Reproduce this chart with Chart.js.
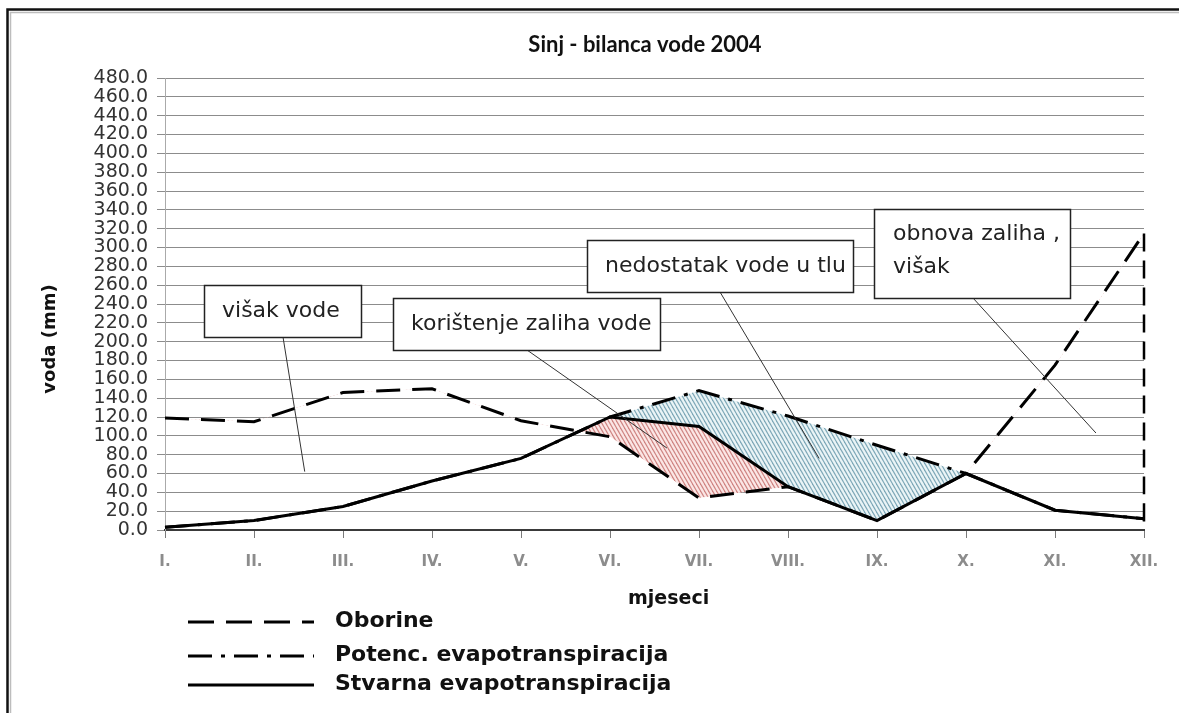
<!DOCTYPE html>
<html><head><meta charset="utf-8">
<script src="https://cdn.jsdelivr.net/npm/chart.js@4.4.1/dist/chart.umd.min.js"></script>
<style>html,body{margin:0;padding:0;background:#fff;}canvas{display:block}</style>
</head><body>
<canvas id="c" width="1179" height="713"></canvas>
<script>
// ---- data ----
const months = ['I.','II.','III.','IV.','V.','VI.','VII.','VIII.','IX.','X.','XI.','XII.'];
const oborine   = [119, 115, 146, 150, 116,  99,  34,  46,  10,  60, 175, 315];
const potencET  = [  3,  10,  25,  52,  76, 120, 148, 121,  90,  60,  21,  12];
const stvarnaET = [  3,  10,  25,  52,  76, 120, 110,  46,  10,  60,  21,  12];
const yMin = 0, yMax = 480, yStep = 20;
const chartTitle = 'Sinj - bilanca vode 2004';
const xTitle = 'mjeseci';
const yTitle = 'voda (mm)';
const seriesNames = ['Oborine', 'Potenc. evapotranspiracija', 'Stvarna evapotranspiracija'];
const calloutTexts = [['višak vode'], ['korištenje zaliha vode'], ['nedostatak vode u tlu'], ['obnova zaliha ,', 'višak']];
// leader-line targets in data coordinates (month index, value)
const calloutTargets = [[1.57, 62], [5.64, 87], [7.35, 76], [10.46, 103]];

// ---- styles ----
const SANS = '"DejaVu Sans", Verdana, sans-serif';
const dashOb = [24, 12];
const dashPet = [24, 9, 4, 9];
const calloutBoxes = [ // x0,y0,x1,y1, textX, text line centers, leader start
  {box:[204,285,361,337], tx:222, ty:[311], from:[283,337]},
  {box:[393,298,660,350], tx:411, ty:[324], from:[527,350]},
  {box:[587,240,853,292], tx:605, ty:[266], from:[720,292]},
  {box:[874,209,1070,298], tx:893, ty:[234,267], from:[973,298]}
];
const legendRows = [621, 655, 684];

function hatch(bg, fg){
  const c = document.createElement('canvas'); c.width = 4; c.height = 7;
  const g = c.getContext('2d');
  g.fillStyle = bg; g.fillRect(0,0,4,7);
  g.strokeStyle = fg; g.lineWidth = 1.2;
  for (const [ox,oy] of [[0,0],[-4,0],[4,0],[0,-7],[0,7]]) {
    g.beginPath(); g.moveTo(ox, oy); g.lineTo(ox+4, oy+7); g.stroke();
  }
  return g.createPattern(c, 'repeat');
}
const redHatch = hatch('#fbe6e5', '#cf8583');
const blueHatch = hatch('#eaf4f6', '#7ea8b8');

const decor = {
  id: 'decor',
  afterDatasetsDraw(chart){
    const {ctx, scales:{x, y}} = chart;
    const i = months.length - 1;
    ctx.save();
    ctx.strokeStyle = '#000'; ctx.lineWidth = 2.5; ctx.setLineDash([18, 9]);
    ctx.beginPath();
    ctx.moveTo(x.getPixelForValue(i), y.getPixelForValue(oborine[i]));
    ctx.lineTo(x.getPixelForValue(i), y.getPixelForValue(0));
    ctx.stroke();
    ctx.restore();
  },
  afterDraw(chart){
    const {ctx, scales:{x, y}} = chart;
    ctx.save();
    // chart title
    ctx.font = 'bold 22px Lato, "Open Sans", sans-serif'; ctx.fillStyle = '#111';
    ctx.textAlign = 'center'; ctx.textBaseline = 'alphabetic';
    ctx.fillText(chartTitle, 645, 52);
    // callouts
    calloutBoxes.forEach((cb, k) => {
      const [tx, tv] = calloutTargets[k];
      ctx.strokeStyle = '#333'; ctx.lineWidth = 1; ctx.setLineDash([]);
      ctx.beginPath(); ctx.moveTo(cb.from[0], cb.from[1]);
      ctx.lineTo(x.getPixelForValue(tx), y.getPixelForValue(tv)); ctx.stroke();
      const [x0,y0,x1,y1] = cb.box;
      ctx.fillStyle = '#fff'; ctx.fillRect(x0, y0, x1-x0, y1-y0);
      ctx.strokeStyle = '#222'; ctx.lineWidth = 1.5;
      ctx.strokeRect(x0+0.5, y0+0.5, x1-x0, y1-y0);
      ctx.fillStyle = '#222'; ctx.font = '22px ' + SANS;
      ctx.textBaseline = 'middle'; ctx.textAlign = 'left';
      calloutTexts[k].forEach((t, j) => ctx.fillText(t, cb.tx, cb.ty[j]));
    });
    // axis titles
    ctx.save();
    ctx.translate(50, 339); ctx.rotate(-Math.PI/2);
    ctx.font = 'bold 18px ' + SANS; ctx.fillStyle = '#111';
    ctx.textAlign = 'center'; ctx.textBaseline = 'middle';
    ctx.fillText(yTitle, 0, 0);
    ctx.restore();
    ctx.font = 'bold 19px ' + SANS; ctx.fillStyle = '#111';
    ctx.textAlign = 'left'; ctx.textBaseline = 'middle';
    ctx.fillText(xTitle, 628, 599);
    // legend
    const ds = chart.data.datasets;
    const order = [1, 2, 0];
    order.forEach((di, k) => {
      const d = ds[di];
      const ly = legendRows[k];
      ctx.strokeStyle = '#000'; ctx.lineWidth = 3; ctx.setLineDash(di === 1 ? [26, 12] : (d.borderDash || []));
      ctx.beginPath(); ctx.moveTo(188, ly + 1); ctx.lineTo(314, ly + 1); ctx.stroke();
      ctx.setLineDash([]);
      ctx.fillStyle = '#111'; ctx.font = 'bold 22px ' + SANS;
      ctx.textAlign = 'left'; ctx.textBaseline = 'middle';
      ctx.fillText(d.label, 335, ly);
    });
    // frame
    ctx.setLineDash([]);
    ctx.strokeStyle = '#bdbdbd'; ctx.lineWidth = 1.5;
    ctx.beginPath(); ctx.moveTo(10.5, 713); ctx.lineTo(10.5, 12.5); ctx.lineTo(1179, 12.5); ctx.stroke();
    ctx.strokeStyle = '#111'; ctx.lineWidth = 2.5;
    ctx.beginPath(); ctx.moveTo(7.5, 713); ctx.lineTo(7.5, 9.5); ctx.lineTo(1179, 9.5); ctx.stroke();
    ctx.restore();
  }
};

new Chart(document.getElementById('c'), {
  type: 'line',
  data: {
    labels: months,
    datasets: [
      {label: seriesNames[2], data: stvarnaET, borderColor: '#000', borderWidth: 3, pointRadius: 0, tension: 0,
       fill: {target: 1, above: redHatch, below: 'rgba(0,0,0,0)'}},
      {label: seriesNames[0], data: oborine, borderColor: '#000', borderWidth: 3, borderDash: dashOb, pointRadius: 0, tension: 0, fill: false},
      {label: seriesNames[1], data: potencET, borderColor: '#000', borderWidth: 3, borderDash: dashPet, pointRadius: 0, tension: 0,
       fill: {target: 0, above: blueHatch, below: 'rgba(0,0,0,0)'}}
    ]
  },
  options: {
    responsive: false, animation: false, devicePixelRatio: 1,
    layout: {padding: {left: 0, right: 35, top: 78, bottom: 0}},
    plugins: {
      legend: {display: false},
      tooltip: {enabled: false},
      filler: {drawTime: 'beforeDatasetsDraw'},
      title: {display: false}
    },
    scales: {
      x: {
        offset: false,
        grid: {drawOnChartArea: false, drawTicks: true, tickLength: 8, color: '#7a7a7a'},
        border: {display: true, color: '#3a3a3a', width: 2},
        ticks: {color: '#8c8c8c', font: {family: SANS, size: 15, weight: 'bold'}, padding: 15, maxRotation: 0, autoSkip: false},
        afterFit: s => { s.height = 183; }
      },
      y: {
        min: yMin, max: yMax,
        grid: {color: '#8c8c8c', lineWidth: 1, tickLength: 8},
        border: {display: true, color: '#aaaaaa', width: 1},
        ticks: {stepSize: yStep, maxTicksLimit: 100, autoSkip: false, padding: 9, color: '#333',
                font: {family: SANS, size: 19},
                callback: v => Number(v).toFixed(1)},
        afterFit: s => { s.width = 165; }
      }
    }
  },
  plugins: [decor]
});
</script>
</body></html>
